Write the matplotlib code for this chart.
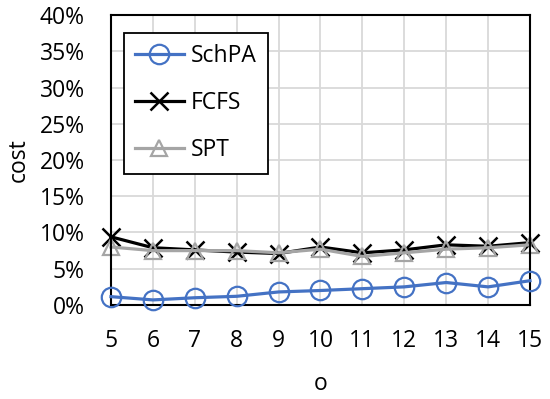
import matplotlib
matplotlib.use("Agg")
import matplotlib.pyplot as plt
from matplotlib.ticker import PercentFormatter

o = [5, 6, 7, 8, 9, 10, 11, 12, 13, 14, 15]
schpa = [1.15, 0.7, 1.0, 1.2, 1.8, 2.0, 2.25, 2.5, 3.1, 2.5, 3.35]
fcfs = [9.4, 7.9, 7.6, 7.3, 7.1, 8.0, 7.2, 7.6, 8.3, 8.1, 8.6]
spt = [8.0, 7.5, 7.5, 7.5, 7.2, 7.7, 6.7, 7.2, 7.7, 7.9, 8.3]

plt.rcParams['font.family'] = ['Open Sans', 'DejaVu Sans']
plt.rcParams['font.size'] = 16.5

fig = plt.figure(figsize=(5.5, 3.99), dpi=100)
ax = fig.add_axes([0.2018, 0.2356, 0.7618, 0.7268])

ax.plot(o, schpa, color='#4472C4', lw=2.3, marker='o', ms=14, mfc='none',
        mew=1.6, label='SchPA', clip_on=False, zorder=3)
ax.plot(o, fcfs, color='black', lw=2.3, marker='x', ms=13, mew=1.8,
        label='FCFS', clip_on=False, zorder=2)
ax.plot(o, spt, color='#A5A5A5', lw=2.3, marker='^', ms=12, mfc='none',
        mew=1.6, label='SPT', clip_on=False, zorder=2)

ax.set_xlim(5, 15)
ax.set_ylim(0, 40)
ax.set_xticks(o)
ax.set_yticks(range(0, 41, 5))
ax.yaxis.set_major_formatter(PercentFormatter(decimals=0))
ax.grid(True, color='#D9D9D9', lw=1.3)
ax.set_axisbelow(True)
ax.tick_params(axis='x', length=0, pad=17)
ax.tick_params(axis='y', length=0, pad=19)
for s in ax.spines.values():
    s.set_linewidth(1.5)
    s.set_color('black')

ax.set_xlabel('o', labelpad=14)
ax.set_ylabel('cost', labelpad=6)

leg = ax.legend(loc='upper left', bbox_to_anchor=(0.031, 0.938), frameon=True,
                fancybox=False, edgecolor='black', framealpha=1,
                handlelength=2.1, labelspacing=1.0, borderpad=0.5,
                handletextpad=0.3, borderaxespad=0)
leg.get_frame().set_linewidth(1.3)

fig.savefig('out.png', dpi=100)
